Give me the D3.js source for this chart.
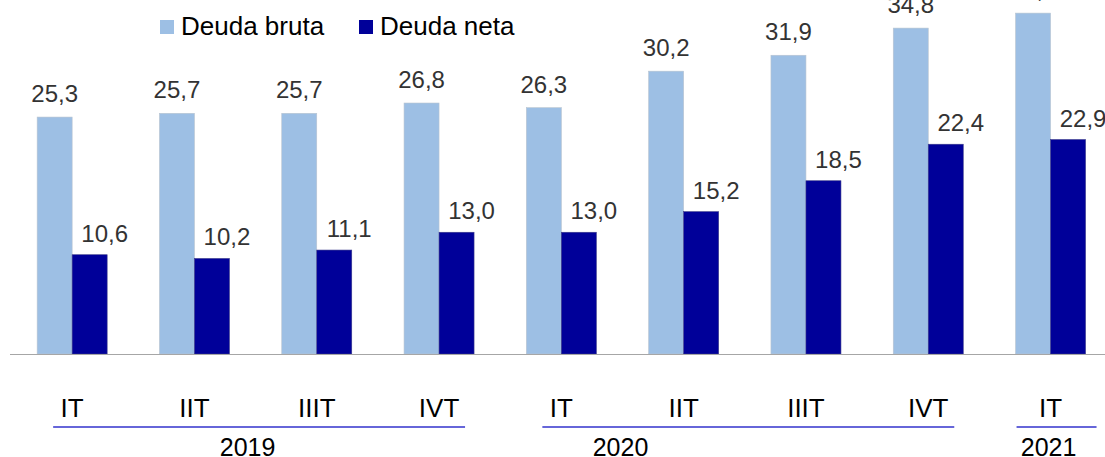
<!DOCTYPE html>
<html>
<head>
<meta charset="utf-8">
<script src="https://cdn.jsdelivr.net/npm/d3@7"></script>
<style>
  body { margin: 0; background: #fff; }
  svg { display: block; font-family: "Liberation Sans", Arial, sans-serif; }
</style>
</head>
<body>
<div id="chart"></div>
<script>
// data
const quarters = ["IT", "IIT", "IIIT", "IVT", "IT", "IIT", "IIIT", "IVT", "IT"];
const years = ["2019", "2020", "2021"];
const yearOfQuarter = [0, 0, 0, 0, 1, 1, 1, 1, 2];
const deudaBruta = [25.3, 25.7, 25.7, 26.8, 26.3, 30.2, 31.9, 34.8, 36.4];
const deudaNeta = [10.6, 10.2, 11.1, 13.0, 13.0, 15.2, 18.5, 22.4, 22.9];
const seriesNames = ["Deuda bruta", "Deuda neta"];
const colors = ["#9dbfe4", "#000099"];

const W = 1105, H = 457;
const baseY = 354;

const svg = d3.select("#chart").append("svg")
    .attr("width", W)
    .attr("height", H);

const idx = d3.range(quarters.length);

// scales
const x0 = d3.scaleBand()
    .domain(idx)
    .range([11, 11 + 122.3 * quarters.length])
    .padding(0);

const x1 = d3.scaleBand()
    .domain([0, 1])
    .range([-35, 35]);

const y = d3.scaleLinear()
    .domain([0, 37.8])
    .range([baseY, 0]);

const center = i => x0(i) + x0.bandwidth() / 2;
const fmt = v => d3.format(".1f")(v).replace(".", ",");

const series = [deudaBruta, deudaNeta];

// bars
series.forEach((vals, s) => {
    svg.append("g").selectAll("rect")
        .data(vals)
        .enter()
        .append("rect")
        .attr("x", (d, i) => center(i) + x1(s))
        .attr("y", d => y(d))
        .attr("width", x1.bandwidth())
        .attr("height", d => baseY - y(d))
        .attr("fill", colors[s])
        .attr("stroke", s === 0 ? "#b8c4d0" : "#3a3a8a")
        .attr("stroke-width", 0.6);

    // value labels (neta ones sit a bit to the right, like the original)
    svg.append("g").selectAll("text")
        .data(vals)
        .enter()
        .append("text")
        .attr("x", (d, i) => center(i) + x1(s) + x1.bandwidth() / 2 + (s === 1 ? 15 : 0))
        .attr("y", d => y(d) - (s === 0 ? 15 : 13))
        .attr("text-anchor", "middle")
        .attr("font-size", 24)
        .attr("fill", "#333")
        .text(d => fmt(d));
});

// axis line
svg.append("line")
    .attr("x1", 10)
    .attr("x2", W)
    .attr("y1", baseY + 0.5)
    .attr("y2", baseY + 0.5)
    .attr("stroke", "#a6a6a6")
    .attr("stroke-width", 1.2);

// quarter labels
svg.append("g").selectAll("text")
    .data(quarters)
    .enter()
    .append("text")
    .attr("x", (d, i) => center(i))
    .attr("y", 417)
    .attr("text-anchor", "middle")
    .attr("font-size", 26)
    .attr("fill", "#000")
    .text(d => d);

// year underlines + labels
years.forEach((yr, k) => {
    const qs = idx.filter(i => yearOfQuarter[i] === k);
    const first = qs[0], last = qs[qs.length - 1];
    const single = qs.length === 1;
    const xa = center(first) - (single ? 34 : 19);
    const xb = center(last) + (single ? 46 : 26);

    svg.append("line")
        .attr("x1", xa)
        .attr("x2", xb)
        .attr("y1", 427)
        .attr("y2", 427)
        .attr("stroke", "#3333cc")
        .attr("stroke-width", 1.6);

    // label sits under the 2nd/3rd tick for 2019, 1st/2nd for 2020
    const anchor = single ? first : (k === 0 ? first + 1.5 : first + 0.5);
    const lx = x0.bandwidth() / 2 + 11 + anchor * x0.step() - (k === 0 ? 8 : 2);
    svg.append("text")
        .attr("x", lx)
        .attr("y", 456)
        .attr("text-anchor", "middle")
        .attr("font-size", 25)
        .attr("fill", "#000")
        .text(yr);
});

// legend
const legend = svg.selectAll(".legend")
    .data(seriesNames)
    .enter()
    .append("g")
    .attr("class", "legend")
    .attr("transform", (d, i) => `translate(${160 + i * 199}, 20)`);

legend.append("rect")
    .attr("width", 14)
    .attr("height", 14)
    .attr("fill", (d, i) => colors[i]);

legend.append("text")
    .attr("x", 21)
    .attr("y", 15)
    .attr("font-size", 26)
    .attr("fill", "#000")
    .text(d => d);
</script>
</body>
</html>
